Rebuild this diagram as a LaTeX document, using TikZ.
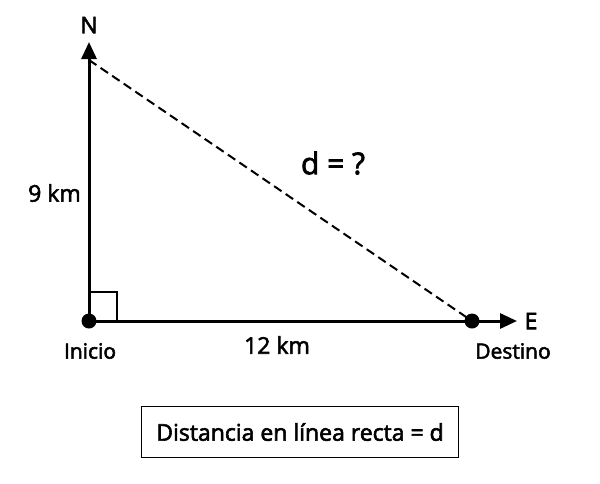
\documentclass[tikz,border=0pt]{standalone}
\usepackage{fontspec}
\setmainfont{Open Sans}[FakeBold=2.5]
\usetikzlibrary{arrows.meta,positioning}

\begin{document}
\begin{tikzpicture}[x=1pt,y=-1pt,
    dot/.style={circle,fill,inner sep=0pt,minimum size=15pt},
    axis/.style={line width=3pt,-{Triangle[length=17pt,width=15pt]}},
    lbl/.style={font=\fontsize{21}{25}\selectfont,inner sep=0pt},
    dir/.style={font=\fontsize{23}{27}\selectfont,inner sep=0pt},
    dist/.style={font=\fontsize{23}{27}\selectfont,inner sep=0pt},
    big/.style={font=\fontsize{30}{34}\selectfont,inner sep=0pt},
    box/.style={draw,line width=1.8pt,minimum width=317pt,minimum height=51pt,
                font=\fontsize{23}{27}\selectfont}]
          \useasboundingbox (0,0) rectangle (600,483);

          \node (inicio)  [dot] at (89,321)  {};
          \node (destino) [dot] at (472,321) {};
          \coordinate (norte) at (89,42);
          \coordinate (este)  at (517,321);
          \coordinate (hip)   at (89,60);

          \node (N)    [dir] at (89,25)   {N};
          \node (E)    [dir] at (531,321) {E};
          \node (km9)  [dist,anchor=east] at (81,193) {9 km};
          \node (km12) [dist] at (277,345) {12 km};
          \node (ini)  [lbl] at (90,351)  {Inicio};
          \node (des)  [lbl] at (513,351) {Destino};
          \node (d)    [big] at (333,163) {d = ?};
          \node (caja) [box] at (300,432) {Distancia en línea recta = d};

          \draw [axis]                  (inicio.center) to (norte);
          \draw [axis]                  (destino.center) to (este);
          \draw [line width=3pt]        (inicio.center) to (destino.center);
          \draw [line width=2pt,dash pattern=on 9pt off 5pt] (hip) to (destino.center);
          \draw [line width=2.5pt]      ([yshift=29pt]inicio.center) -| ([xshift=28pt]inicio.center);
        \end{tikzpicture}
\end{document}
